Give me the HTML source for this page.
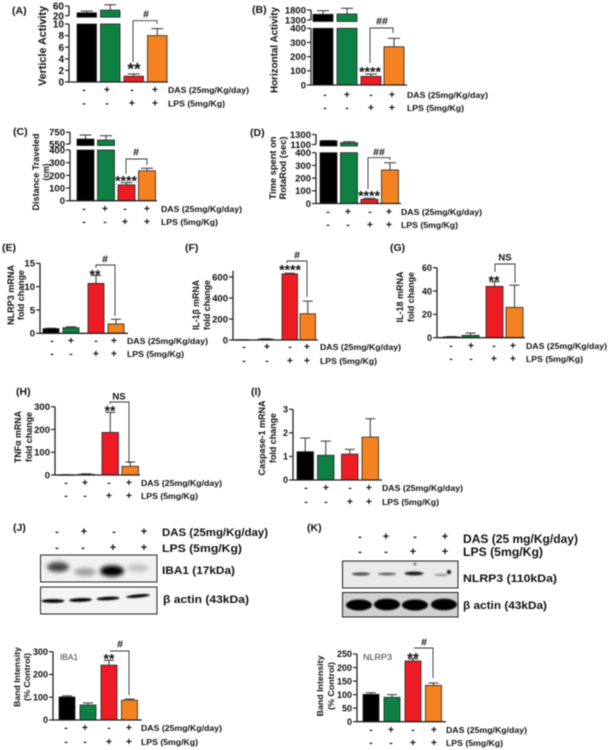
<!DOCTYPE html>
<html lang="en">
<head>
<meta charset="utf-8">
<title>DAS and LPS figure</title>
<style>
html,body{margin:0;padding:0;background:#fff;}
#figure{display:block;width:608px;height:750px;filter:blur(0.4px);}
text{font-family:"Liberation Sans",Arial,sans-serif;fill:#111;}
</style>
</head>
<body>
<svg id="figure" xmlns="http://www.w3.org/2000/svg" width="608" height="750" viewBox="0 0 608 750">
<defs>
<filter id="soft" x="-40%" y="-80%" width="180%" height="260%"><feGaussianBlur stdDeviation="2"/></filter>
<filter id="softer" x="-20%" y="-80%" width="140%" height="260%"><feGaussianBlur stdDeviation="0.7"/></filter>
</defs>
</svg>
<script>
/* ---------- chart data ---------- */
const groups = ['control','das','lps','das-lps'];
const dasSigns = ['-','+','-','+'];
const lpsSigns = ['-','-','+','+'];
const dasLabel = 'DAS (25mg/Kg/day)';
const lpsLabel = 'LPS (5mg/Kg)';

const aValues = [32,43,1,8];
const aErrors = [39,65,1.4,9.2];
const aTicks = [0,2,4,6,8,10,20,60];

const bValues = [1585,1600,61,270];
const bErrors = [1765,1885,77,329];
const bTicks = [0,100,200,300,400,1300,1800];

const cValues = [635,618,125,236];
const cErrors = [704,692,143,256];
const cTicks = [0,100,200,300,400,550,750];

const dValues = [1176,1136,33,264];
const dErrors = [1180,1156,41,321];
const dTicks = [0,100,200,300,400,1100,1300];

const eValues = [1.0,1.2,10.7,2.0];
const eErrors = [1.1,1.4,12.4,3.0];
const eTicks = [0,5,10,15];

const fValues = [2,8,630,250];
const fErrors = [3,12,636,370];
const fTicks = [0,200,400,600];

const gValues = [0.7,2,44,26];
const gErrors = [1,4,48,45];
const gTicks = [0,20,40,60];

const hValues = [1,3,187,38];
const hErrors = [1.5,5,275,57];
const hTicks = [0,100,200,300];

const iValues = [1.2,1.05,1.1,1.82];
const iErrors = [1.78,1.65,1.3,2.6];
const iTicks = [0,1,2,3];

const jValues = [101,66,241,87];
const jErrors = [106,75,262,92];
const jTicks = [0,100,200,300];

const kValues = [101,90,224,134];
const kErrors = [107,100,232,143];
const kTicks = [0,50,100,150,200,250];

const barColors = ['#000000','#0f8044','#ed1c24','#f58220'];

/* ---------- helpers ---------- */
const svg = document.getElementById('figure');
const NS = 'http://www.w3.org/2000/svg';

function add(tag, name, attrs){
  const el = document.createElementNS(NS, tag);
  
  
  for (const k in attrs) el.setAttribute(k, attrs[k]);
  svg.appendChild(el);
  return el;
}
function label(name, str, x, y, size, opts){
  const o = opts || {};
  const attrs = {x:x, y:y, 'font-size':size, 'font-weight':o.weight || 'bold', 'text-anchor':o.anchor || 'start'};
  if (o.len) { attrs.textLength = o.len; attrs.lengthAdjust = 'spacingAndGlyphs'; }
  if (o.rotate) attrs.transform = 'rotate(-90 ' + x + ' ' + y + ')';
  if (o.fill) attrs.style = 'fill:' + o.fill;
  const el = add('text', name, attrs);
  el.textContent = str;
  return el;
}
function line(name, x1, y1, x2, y2, w, color){
  return add('line', name, {x1:x1, y1:y1, x2:x2, y2:y2, stroke:color || '#222', 'stroke-width':w || 1});
}
function makeY(segs){
  return function(v){
    for (let i = 0; i < segs.length; i++){
      const s = segs[i];
      if (v <= s.v1 || i === segs.length - 1){
        const c = Math.max(v, s.v0);
        return s.y0 + (c - s.v0) / (s.v1 - s.v0) * (s.y1 - s.y0);
      }
    }
  };
}
function makeX(g){
  return function(i){
    let x = g.x0;
    if (i >= 1) x += g.s1;
    if (i >= 2) x += g.s12;
    if (i >= 3) x += g.s2;
    return x;
  };
}

function drawPanel(id, values, errors, ticks, L){
  const y = makeY(L.segs);
  const x = makeX(L.x);
  const base = L.segs[0].y0;
  const w = L.x.w;

  label('panel-label-' + id, '(' + id.toUpperCase() + ')', L.tag[0], L.tag[1], L.tagSize || 10.5);

  /* y-axis title */
  L.ylabel.forEach(function(t, n){
    label(id + '-y-axis-title-' + n, t.t, t.x + L.ysize * 0.35, L.ycenter, L.ysize, {anchor:'middle', rotate:true, len:t.len});
  });

  /* bars and error bars */
  values.forEach(function(v, i){
    const left = x(i);
    const cx = left + w / 2;
    const top = y(v);
    const color = barColors[i];
    if (L.segs.length > 1 && v > L.segs[0].v1){
      const splitTop = L.segs[0].y1;
      const upperBase = L.segs[1].y0 + 1.5;
      add('rect', id + '-bar-' + groups[i] + '-lower', {x:left, y:splitTop, width:w, height:base - splitTop, fill:color, stroke:'#222', 'stroke-width':0.8});
      add('rect', id + '-bar-' + groups[i] + '-upper', {x:left, y:top, width:w, height:Math.max(upperBase - top, 0.5), fill:color, stroke:'#222', 'stroke-width':0.8});
    } else {
      add('rect', id + '-bar-' + groups[i], {x:left, y:top, width:w, height:Math.max(base - top, 0.5), fill:color, stroke:'#222', 'stroke-width':0.8});
    }
    const et = y(errors[i]);
    const cap = L.cap || 6;
    line(id + '-error-stem-' + groups[i], cx, top, cx, et, 1, '#333');
    line(id + '-error-cap-' + groups[i], cx - cap, et, cx + cap, et, 1, '#333');
  });

  /* axes */
  L.segs.forEach(function(s, n){
    line(id + '-y-axis-' + n, L.axisX, s.y0 + (n === 0 ? 0.5 : 0), L.axisX, s.y1, 1.3);
  });
  line(id + '-x-axis', L.axisX, base, L.axisEnd, base, 1.3);
  ticks.forEach(function(t){
    const ty = y(t);
    line(id + '-y-tick-' + t, L.axisX - 4, ty, L.axisX, ty, 1.2);
    label(id + '-y-tick-label-' + t, String(t), L.axisX - 5, ty + L.tickSize * 0.36, L.tickSize, {anchor:'end'});
  });

  /* treatment rows */
  dasSigns.forEach(function(s, i){
    label(id + '-das-sign-' + groups[i], s, L.signs[i], L.rows[0] + 3, 10.5, {anchor:'middle'});
  });
  lpsSigns.forEach(function(s, i){
    label(id + '-lps-sign-' + groups[i], s, L.signs[i], L.rows[1] + 3, 10.5, {anchor:'middle'});
  });
  label(id + '-das-legend', dasLabel, L.legendX, L.rows[0] + 3, 8.6, {len:81});
  label(id + '-lps-legend', lpsLabel, L.legendX, L.rows[1] + 3, 8.6, {len:57});

  /* significance annotations */
  if (L.bracket){
    const b = L.bracket;
    add('path', id + '-significance-bracket', {d:'M' + b.lx + ' ' + b.lb + 'V' + b.top + 'H' + b.rx + 'V' + b.rb, fill:'none', stroke:'#333', 'stroke-width':0.9});
    label(id + '-significance-mark', b.mark, b.mx, b.my + 3.5, b.mark === 'NS' ? 9.5 : 10.5, {anchor:'middle'});
  }
  if (L.stars){
    label(id + '-stars', L.stars.t, L.stars.x, L.stars.y + L.stars.size * 0.45, L.stars.size, {anchor:'middle'});
  }
  if (L.inner){
    label(id + '-inner-title', L.inner.t, L.inner.x, L.inner.y + 3, 8.2, {weight:'normal', len:L.inner.len, fill:'#333'});
  }
}

/* ---------- panels ---------- */
drawPanel('a', aValues, aErrors, aTicks, {
  segs:[{v0:0,v1:10,y0:82,y1:24},{v0:20,v1:60,y0:15.7,y1:6}],
  x:{x0:77,w:19.5,s1:23.5,s12:23.5,s2:23.5}, axisX:69, axisEnd:168, tickSize:10,
  signs:[84,107,132,155], rows:[90,103.5], legendX:168, tag:[12,14],
  ylabel:[{t:'Verticle Activity',x:42,len:80}], ycenter:46, ysize:11,
  bracket:{lx:133,lb:62,top:20.7,rx:157,rb:24,mark:'#',mx:146,my:14},
  stars:{t:'**',x:134,y:67,size:17}
});
drawPanel('b', bValues, bErrors, bTicks, {
  segs:[{v0:0,v1:400,y0:85,y1:28.3},{v0:1300,v1:1800,y0:20,y1:10}],
  x:{x0:313,w:20,s1:24,s12:24,s2:23}, axisX:311, axisEnd:407, tickSize:9.5,
  signs:[325,347,371,392], rows:[95,108], legendX:407, tag:[252,13],
  ylabel:[{t:'Horizontal Activity',x:274,len:86}], ycenter:50, ysize:10,
  bracket:{lx:370,lb:63,top:28,rx:393,rb:33,mark:'##',mx:382,my:21},
  stars:{t:'****',x:370,y:70,size:14}
});
drawPanel('c', cValues, cErrors, cTicks, {
  segs:[{v0:0,v1:400,y0:200.7,y1:150},{v0:550,v1:750,y0:144,y1:132.3}],
  x:{x0:77,w:17,s1:20.5,s12:20.5,s2:20.5}, axisX:70, axisEnd:157, tickSize:9.5,
  signs:[84,105,125,147], rows:[209,222], legendX:161, tag:[13,135],
  ylabel:[{t:'Distance Traveled',x:36,len:77},{t:'(cm)',x:46,len:17}], ycenter:172, ysize:9,
  bracket:{lx:126,lb:174,top:159,rx:147,rb:165,mark:'#',mx:136,my:152},
  stars:{t:'****',x:126,y:179,size:14}
});
drawPanel('d', dValues, dErrors, dTicks, {
  segs:[{v0:0,v1:400,y0:203.5,y1:152.7},{v0:1100,v1:1300,y0:144.5,y1:134.5}],
  x:{x0:320,w:17,s1:20.5,s12:20.5,s2:20.5}, axisX:316, axisEnd:401, tickSize:9.5,
  signs:[328,348,370,389], rows:[212,225], legendX:401, tag:[250,136],
  ylabel:[{t:'Time spent on',x:273,len:63},{t:'RotaRod (sec)',x:283,len:63}], ycenter:168, ysize:9,
  bracket:{lx:368,lb:189,top:157.7,rx:390,rb:160,mark:'##',mx:379,my:152},
  stars:{t:'****',x:369,y:194,size:14}
});
drawPanel('e', eValues, eErrors, eTicks, {
  segs:[{v0:0,v1:15,y0:333.3,y1:263.3}],
  x:{x0:43,w:16,s1:20,s12:25,s2:20}, axisX:40, axisEnd:128, tickSize:9.5, cap:5,
  signs:[52,71,96,114], rows:[341,354], legendX:127, tag:[2,251],
  ylabel:[{t:'NLRP3 mRNA',x:11,len:60},{t:'fold change',x:21,len:50}], ycenter:295, ysize:9,
  bracket:{lx:96,lb:268,top:265,rx:115,rb:316,mark:'#',mx:105,my:259},
  stars:{t:'**',x:95,y:273,size:14}
});
drawPanel('f', fValues, fErrors, fTicks, {
  segs:[{v0:0,v1:660,y0:340,y1:270.7}],
  x:{x0:235,w:15.5,s1:23,s12:24,s2:18}, axisX:233, axisEnd:318, tickSize:9.5, cap:5,
  signs:[244,267,290,307], rows:[347,361], legendX:320, tag:[185,251],
  ylabel:[{t:'IL-1β mRNA',x:196,len:50},{t:'fold change',x:207,len:50}], ycenter:305, ysize:9,
  bracket:{lx:287,lb:263,top:261,rx:307,rb:297,mark:'#',mx:297,my:255},
  stars:{t:'****',x:290,y:268,size:14}
});
drawPanel('g', gValues, gErrors, gTicks, {
  segs:[{v0:0,v1:60,y0:337.7,y1:267.7}],
  x:{x0:443,w:17,s1:19,s12:24,s2:20}, axisX:437, axisEnd:525, tickSize:9, cap:5,
  signs:[451,471,494,513], rows:[346,359], legendX:526, tag:[390,251],
  ylabel:[{t:'IL-18 mRNA',x:400,len:51},{t:'fold change',x:411,len:50}], ycenter:297, ysize:9,
  bracket:{lx:495,lb:272,top:264,rx:515,rb:283,mark:'NS',mx:505,my:257},
  stars:{t:'**',x:494,y:279,size:14}
});
drawPanel('h', hValues, hErrors, hTicks, {
  segs:[{v0:0,v1:300,y0:475,y1:406.7}],
  x:{x0:58,w:16.5,s1:20,s12:24,s2:20}, axisX:55, axisEnd:140, tickSize:9.5, cap:5,
  signs:[66,85,109,129], rows:[483,496], legendX:141, tag:[16,395],
  ylabel:[{t:'TNFα mRNA',x:18,len:52},{t:'fold change',x:29,len:50}], ycenter:437, ysize:9,
  bracket:{lx:110,lb:404,top:402,rx:129,rb:463,mark:'NS',mx:119,my:396},
  stars:{t:'**',x:110,y:409,size:14}
});
drawPanel('i', iValues, iErrors, iTicks, {
  segs:[{v0:0,v1:3,y0:480,y1:409.3}],
  x:{x0:297,w:16.5,s1:20.5,s12:24,s2:20.5}, axisX:293, axisEnd:382, tickSize:9, cap:5,
  signs:[306,326,350,369], rows:[488,502], legendX:382, tag:[251,395],
  ylabel:[{t:'Caspase-1 mRNA',x:262,len:75},{t:'fold change',x:273,len:50}], ycenter:438, ysize:9
});
drawPanel('j', jValues, jErrors, jTicks, {
  segs:[{v0:0,v1:300,y0:720,y1:651.7}],
  x:{x0:59,w:16,s1:21,s12:21,s2:20.5}, axisX:53, axisEnd:142, tickSize:9, cap:5,
  signs:[66,85,109,129], rows:[728,742], legendX:141, tag:[13,531],
  ylabel:[{t:'Band Intensity',x:17,len:60},{t:'(% Control)',x:27,len:48}], ycenter:677, ysize:8.5,
  bracket:{lx:110,lb:651,top:651,rx:129,rb:695,mark:'#',mx:120,my:644},
  stars:{t:'**',x:109,y:657,size:14},
  inner:{t:'IBA1',x:60,y:657,len:18}
});
drawPanel('k', kValues, kErrors, kTicks, {
  segs:[{v0:0,v1:250,y0:721.7,y1:654}],
  x:{x0:363,w:16,s1:21,s12:21,s2:20.5}, axisX:357, axisEnd:446, tickSize:9, cap:5,
  signs:[371,391,413,434], rows:[730,743], legendX:446, tag:[307,531],
  ylabel:[{t:'Band Intensity',x:320,len:61},{t:'(% Control)',x:331,len:48}], ycenter:686, ysize:8.5,
  bracket:{lx:414,lb:648,top:648,rx:433,rb:678,mark:'#',mx:424,my:642},
  stars:{t:'**',x:413,y:656,size:15},
  inner:{t:'NLRP3',x:363,y:657,len:29}
});

/* ---------- western blots ---------- */
function blotFrame(name, x, y, w, h, bg){
  add('rect', name, {x:x, y:y, width:w, height:h, fill:bg, stroke:'#222', 'stroke-width':1});
}
function band(name, cx, cy, rx, ry, color, filter, angle){
  const attrs = {cx:cx, cy:cy, rx:rx, ry:ry, fill:color, filter:'url(#' + filter + ')'};
  if (angle) attrs.transform = 'rotate(' + angle + ' ' + cx + ' ' + cy + ')';
  add('ellipse', name, attrs);
}

/* J heading */
dasSigns.forEach(function(s, i){
  label('j-blot-das-sign-' + groups[i], s, [57,84,114,144][i], 535, 11, {anchor:'middle'});
});
lpsSigns.forEach(function(s, i){
  label('j-blot-lps-sign-' + groups[i], s, [57,83,113,144][i], 551, 11, {anchor:'middle'});
});
label('j-blot-das-label', 'DAS (25mg/Kg/day)', 162, 536, 11, {len:106});
label('j-blot-lps-label', 'LPS (5mg/Kg)', 162, 552, 11, {len:80});

blotFrame('iba1-blot', 40.5, 555, 116.5, 27, '#f1f1f1');
band('iba1-band-control', 58, 567, 11, 5, '#444', 'soft');
band('iba1-band-das', 85, 572, 11, 4, '#a0a0a0', 'soft');
band('iba1-band-lps', 112, 571, 12, 5.5, '#000', 'soft');
band('iba1-band-das-lps', 138, 568, 11, 4, '#c4c4c4', 'soft');
label('iba1-label', 'IBA1 (17kDa)', 162, 574, 11, {len:73});

blotFrame('j-actin-blot', 40.5, 587, 116.5, 27, '#f3f3f3');
band('j-actin-band-control', 53, 601, 11.5, 1.9, '#000', 'softer');
band('j-actin-band-das', 80.5, 600, 11.5, 1.9, '#000', 'softer', -2);
band('j-actin-band-lps', 108, 598.5, 11.5, 1.7, '#000', 'softer', -3);
band('j-actin-band-das-lps', 138, 596, 12, 1.6, '#000', 'softer', -5);
label('j-actin-label', 'β actin (43kDa)', 163, 603, 11, {len:86});

/* K heading */
dasSigns.forEach(function(s, i){
  label('k-blot-das-sign-' + groups[i], s, [360,386,415,445][i], 540, 11, {anchor:'middle'});
});
lpsSigns.forEach(function(s, i){
  label('k-blot-lps-sign-' + groups[i], s, [360,386,413,445][i], 555, 11, {anchor:'middle'});
});
label('k-blot-das-label', 'DAS (25 mg/Kg/day)', 463, 543, 11.5, {len:115});
label('k-blot-lps-label', 'LPS (5mg/Kg)', 463, 556, 11.5, {len:80});

blotFrame('nlrp3-blot', 342.5, 561, 115.5, 27, '#e9e9e9');
band('nlrp3-band-control', 361, 574, 9, 1.7, '#555', 'softer');
band('nlrp3-band-das', 387, 574, 9, 1.5, '#666', 'softer');
band('nlrp3-band-lps', 414, 573.5, 9.5, 2, '#222', 'softer');
band('nlrp3-band-das-lps', 441, 575, 7, 1.3, '#999', 'softer');
band('nlrp3-spot', 449, 572, 2, 2, '#111', 'softer');
band('nlrp3-speck', 415, 564, 1.4, 1.2, '#555', 'softer');
label('nlrp3-label', 'NLRP3 (110kDa)', 463, 582, 11, {len:94});

blotFrame('k-actin-blot', 342.5, 592.5, 115.5, 24.5, '#d0d0d0');
band('k-actin-band-control', 359, 605, 13, 5.5, '#000', 'softer');
band('k-actin-band-das', 387, 604.5, 13, 5.8, '#000', 'softer');
band('k-actin-band-lps', 415, 605, 13, 5.5, '#000', 'softer');
band('k-actin-band-das-lps', 444, 604.5, 13, 5.8, '#000', 'softer');
label('k-actin-label', 'β actin (43kDa)', 463, 609, 11, {len:84});
</script>
</body>
</html>
